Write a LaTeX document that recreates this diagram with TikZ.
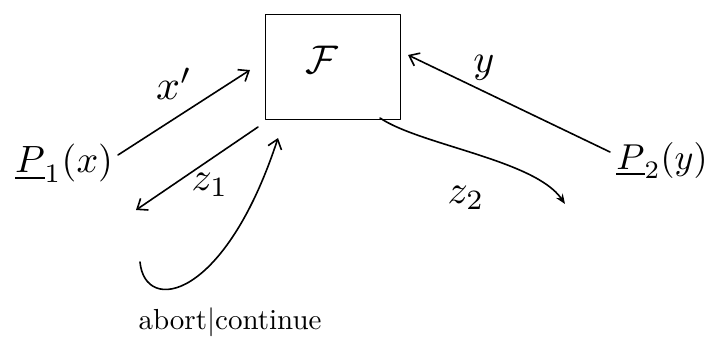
\documentclass[tikz,border=0pt]{standalone}
\usepackage{graphicx}
\usetikzlibrary{arrows.meta}
\begin{document}
\begin{tikzpicture}[x=1pt,y=-1pt,
  ink/.style={line width=1.6pt,line cap=round,line join=round},
  arr/.style={ink,-{Straight Barb[length=9pt,width=14pt]}},
  lbl/.style={inner sep=0pt}]
\useasboundingbox (0,0) rectangle (719,343);
\node[ink,draw,minimum width=135pt,minimum height=105pt,inner sep=0pt] (F) at (333,67) {};
\node[lbl] (Ft) at (322,60) {\scalebox{4}{$\mathcal{F}$}};
\node[lbl] (P1) at (64,163) {\scalebox{3.8}{$\underline{P}_1(x)$}};
\node[lbl] (P2) at (662,160) {\scalebox{3.6}{$\underline{P}_2(y)$}};
\coordinate (a1) at (118,155);
\coordinate (a2) at (250,70);
\coordinate (b1) at (258,127);
\coordinate (b2) at (136,210);
\coordinate (c1) at (610,152);
\coordinate (c2) at (408,55);
\coordinate (d1) at (380,118);
\coordinate (d2) at (565,204);
\coordinate (e1) at (140,262);
\coordinate (e2) at (278,138);
\draw[arr] (a1) -- (a2);
\draw[arr] (b1) -- (b2);
\draw[arr] (c1) -- (c2);
\draw[ink,-{Stealth[open,length=10pt,width=8pt]}] (d1) .. controls (420,145) and (535,160) .. (d2);
\draw[arr] (e1) .. controls (145,315) and (225,300) .. (e2);
\node[lbl] (lx) at (174,84) {\scalebox{4.2}{$x'$}};
\node[lbl] (lz1) at (210,185) {\scalebox{4}{$z_1$}};
\node[lbl] (ly) at (484,68) {\scalebox{4}{$y$}};
\node[lbl] (lz2) at (466,198) {\scalebox{4}{$z_2$}};
\node[lbl] (lab) at (230,322) {\scalebox{2.9}{abort$|$continue}};
\end{tikzpicture}
\end{document}
